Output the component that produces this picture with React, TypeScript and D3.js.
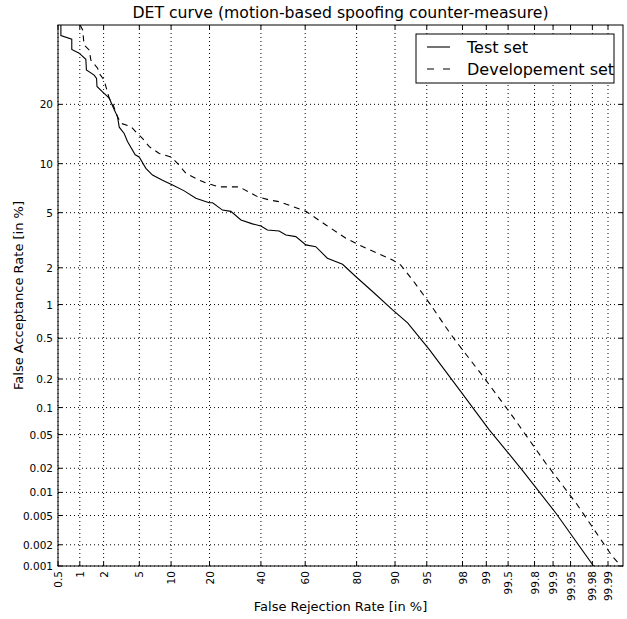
import React from 'react';
import * as d3 from 'd3';

const xTicks = [0.5, 1, 2, 5, 10, 20, 40, 60, 80, 90, 95, 98, 99, 99.5, 99.8, 99.9, 99.95, 99.98, 99.99];
const yTicks = [0.001, 0.002, 0.005, 0.01, 0.02, 0.05, 0.1, 0.2, 0.5, 1, 2, 5, 10, 20];

const testFRR = [0.55, 0.55, 0.78, 0.78, 0.98, 1.2, 1.22, 1.53, 1.64, 1.66, 1.94, 2.33, 2.67, 2.91, 3.04, 3.45, 3.75, 4.53, 4.98, 5.82, 6.76, 8.38, 10.3, 12.9, 15.9, 19.9, 21, 24.4, 27.5, 31.5, 36.3, 40, 42.9, 48.2, 51.3, 55.8, 60.3, 64.6, 69.4, 75.2, 79.8, 84.7, 89.5, 92.3, 95.3, 98.0, 99.08, 99.69, 99.91, 99.981];
const testFAR = [40, 37, 36, 33.2, 32.2, 30.6, 27.9, 26.6, 25.8, 23.9, 22.7, 21.3, 18.9, 17.5, 15.6, 14.5, 13.2, 11.2, 10.9, 9.4, 8.6, 8.0, 7.5, 6.9, 6.2, 5.8, 5.8, 5.2, 5.1, 4.47, 4.2, 4.06, 3.81, 3.75, 3.51, 3.42, 2.98, 2.89, 2.37, 2.13, 1.7, 1.29, 0.9, 0.69, 0.39, 0.14, 0.057, 0.019, 0.0054, 0.001];

const devFRR = [1.01, 1.09, 1.14, 1.33, 1.39, 1.69, 1.77, 2.03, 2.13, 2.33, 2.55, 2.91, 3.17, 4.08, 4.79, 5.38, 6.28, 7.82, 9.96, 11.35, 13.3, 15.9, 18.9, 23.2, 30.8, 38.5, 43.7, 48.2, 60.3, 68.8, 76.4, 82.8, 89.5, 91.1, 93.1, 95.3, 97.1, 97.6, 98.98, 99.57, 99.868, 99.96, 99.9918, 99.994];
const devFAR = [40, 38.6, 34.4, 33, 30.4, 28.3, 27, 25.4, 23.9, 21.3, 20.2, 17.5, 16.3, 15.7, 14.5, 13.7, 12.4, 11.4, 10.9, 10.05, 8.8, 8.2, 7.7, 7.3, 7.3, 6.35, 6.05, 5.9, 5.1, 4.13, 3.33, 2.82, 2.3, 2.1, 1.6, 1.03, 0.58, 0.47, 0.196, 0.08, 0.023, 0.0073, 0.00137, 0.00107];

const legendLabels = ['Test set', 'Developement set'];

// inverse normal CDF (Acklam)
function probit(p: number): number {
  const a = [-3.969683028665376e1, 2.209460984245205e2, -2.759285104469687e2, 1.38357751867269e2, -3.066479806614716e1, 2.506628277459239];
  const b = [-5.447609879822406e1, 1.615858368580409e2, -1.556989798598866e2, 6.680131188771972e1, -1.328068155288572e1];
  const c = [-7.784894002430293e-3, -3.223964580411365e-1, -2.400758277161838, -2.549732539343734, 4.374664141464968, 2.938163982698783];
  const d = [7.784695709041462e-3, 3.224671290700398e-1, 2.445134137142996, 3.754408661907416];
  const pl = 0.02425;
  if (p < pl) {
    const q = Math.sqrt(-2 * Math.log(p));
    return (((((c[0] * q + c[1]) * q + c[2]) * q + c[3]) * q + c[4]) * q + c[5]) / ((((d[0] * q + d[1]) * q + d[2]) * q + d[3]) * q + 1);
  }
  if (p > 1 - pl) {
    const q = Math.sqrt(-2 * Math.log(1 - p));
    return -(((((c[0] * q + c[1]) * q + c[2]) * q + c[3]) * q + c[4]) * q + c[5]) / ((((d[0] * q + d[1]) * q + d[2]) * q + d[3]) * q + 1);
  }
  const q = p - 0.5;
  const r = q * q;
  return (((((a[0] * r + a[1]) * r + a[2]) * r + a[3]) * r + a[4]) * r + a[5]) * q / (((((b[0] * r + b[1]) * r + b[2]) * r + b[3]) * r + b[4]) * r + 1);
}

const W = 627, H = 619;
const L = 58, R = 623, T = 25, B = 566;

export default function App() {
  const x = d3.scaleLinear().domain([probit(0.005), probit(0.99995)]).range([L, R]);
  const y = d3.scaleLinear().domain([probit(0.00001), probit(0.4)]).range([B, T]);
  const px = (v: number) => x(probit(v / 100));
  const py = (v: number) => y(probit(v / 100));
  const line = d3.line<[number, number]>().x(d => px(d[0])).y(d => py(d[1]));
  const testPts = testFRR.map((v, i) => [v, testFAR[i]] as [number, number]);
  const devPts = devFRR.map((v, i) => [v, devFAR[i]] as [number, number]);
  const font = 'DejaVu Sans, sans-serif';

  return (
    <svg width={W} height={H} style={{ position: 'absolute', left: 0, top: 0, background: '#fff' }} fontFamily={font}>
      <defs>
        <clipPath id="plotclip"><rect x={L} y={T} width={R - L} height={B - T} /></clipPath>
      </defs>
      <rect x={0} y={0} width={W} height={H} fill="#fff" />
      {xTicks.map(t => (
        <line key={'gx' + t} x1={px(t)} x2={px(t)} y1={T} y2={B} stroke="#000" strokeWidth={1} strokeDasharray="1,3" />
      ))}
      {yTicks.map(t => (
        <line key={'gy' + t} x1={L} x2={R} y1={py(t)} y2={py(t)} stroke="#000" strokeWidth={1} strokeDasharray="1,3" />
      ))}
      <g clipPath="url(#plotclip)">
        <path d={line(testPts) || ''} fill="none" stroke="#000" strokeWidth={1.1} />
        <path d={line(devPts) || ''} fill="none" stroke="#000" strokeWidth={1.1} strokeDasharray="6,5" />
      </g>
      {xTicks.map(t => (
        <g key={'tx' + t}>
          <line x1={px(t)} x2={px(t)} y1={B} y2={B - 4} stroke="#000" />
          <line x1={px(t)} x2={px(t)} y1={T} y2={T + 4} stroke="#000" />
          <text transform={`translate(${px(t)},${B + 5}) rotate(-90)`} textAnchor="end" dominantBaseline="central" fontSize={10.5}>{t}</text>
        </g>
      ))}
      {yTicks.map(t => (
        <g key={'ty' + t}>
          <line x1={L} x2={L + 4} y1={py(t)} y2={py(t)} stroke="#000" />
          <line x1={R} x2={R - 4} y1={py(t)} y2={py(t)} stroke="#000" />
          <text x={L - 5} y={py(t)} textAnchor="end" dominantBaseline="central" fontSize={10.5}>{t}</text>
        </g>
      ))}
      <rect x={L} y={T} width={R - L} height={B - T} fill="none" stroke="#000" strokeWidth={1} />
      <rect x={416} y={34} width={198} height={49} fill="#fff" stroke="#000" strokeWidth={1} />
      <line x1={427} x2={450} y1={47} y2={47} stroke="#000" strokeWidth={1.1} />
      <line x1={427} x2={450} y1={69} y2={69} stroke="#000" strokeWidth={1.1} strokeDasharray="7,9" />
      <text x={467} y={47} dominantBaseline="central" fontSize={16}>{legendLabels[0]}</text>
      <text x={467} y={69} dominantBaseline="central" fontSize={16}>{legendLabels[1]}</text>
      <text x={(L + R) / 2} y={18} textAnchor="middle" fontSize={15.7}>DET curve (motion-based spoofing counter-measure)</text>
      <text x={(L + R) / 2} y={611} textAnchor="middle" fontSize={13}>False Rejection Rate [in %]</text>
      <text transform={`translate(18,${(T + B) / 2}) rotate(-90)`} textAnchor="middle" dominantBaseline="central" fontSize={13}>False Acceptance Rate [in %]</text>
    </svg>
  );
}
